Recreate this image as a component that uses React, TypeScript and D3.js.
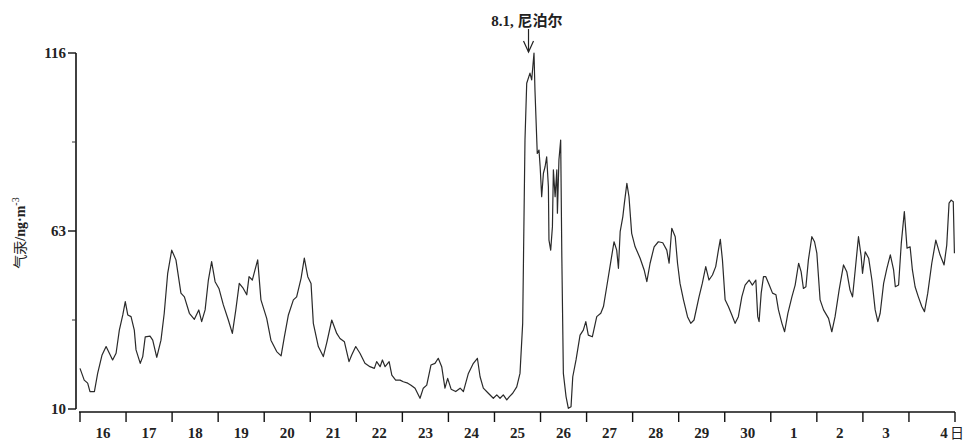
import React, { useEffect, useRef } from "react";
import * as d3 from "d3";

// hours since 00:00 of day 16
const obsHours = [
  0, 2.2, 4.0, 5.2, 7.5, 9.2, 11.5, 13.6, 15.3, 17.0, 18.8, 20.5, 22.3, 23.6, 24.9, 26.6, 28.3, 29.2,
  31.4, 32.7, 34.0, 36.5, 37.9, 40.0, 42.2, 43.9, 45.7, 47.8, 50.0, 52.6, 54.4, 57.0, 59.6, 61.9,
  63.4, 65.2, 66.9, 68.6, 70.4, 72.4, 74.7, 77.3, 79.4, 81.2, 83.0, 85.1, 86.9, 88.1, 89.8, 91.2,
  92.6, 94.3, 97.3, 99.5, 100.7, 102.5, 104.8, 106.5, 108.6, 111.2, 112.9, 115.2, 116.9, 118.7,
  120.4, 121.6, 124.2, 126.8, 128.7, 131.2, 133.8, 135.5, 137.8, 140.2, 141.6, 143.7, 145.9, 148.5,
  151.1, 153.4, 154.6, 156.4, 157.6, 159.0, 161.1, 162.5, 164.5, 166.8, 168.5, 170.8, 172.5, 174.6,
  177.2, 178.9, 180.7, 182.9, 185.0, 186.7, 188.5, 190.2, 191.6, 193.4, 195.8, 198.1, 199.8, 202.4,
  205.0, 207.1, 208.5, 210.2, 212.8, 215.4, 217.2, 218.9, 220.6, 222.4, 223.8, 225.5, 227.6, 229.3,
  230.7, 231.9, 232.8, 234.5, 235.4, 236.6, 237.1, 238.3, 239.2, 239.8, 240.6, 241.5, 242.4, 243.2,
  244.1, 244.4, 245.3, 246.2, 246.7, 247.6, 248.5, 248.8, 249.6, 250.5, 251.1, 251.9, 253.3, 254.5,
  255.9, 256.8, 258.5, 260.6, 262.3, 263.6, 264.9, 267.0, 269.3, 271.4, 272.8, 274.5, 276.2, 278.3,
  279.7, 280.6, 281.5, 282.9, 283.7, 285.0, 286.1, 287.5, 289.3, 291.9, 294.0, 295.4, 297.1, 299.2,
  301.4, 303.7, 305.8, 307.0, 308.4, 310.2, 311.4, 312.7, 314.5, 316.6, 318.3, 320.0, 322.6, 324.3,
  326.1, 327.8, 329.6, 331.3, 332.7, 333.7, 334.8, 336.2, 337.9, 339.7, 341.4, 343.1, 344.9, 346.6,
  348.7, 350.4, 352.2, 353.2, 353.9, 355.0, 356.2, 357.4, 359.2, 360.9, 362.7, 364.0, 365.8, 367.2,
  368.9, 371.0, 372.7, 374.5, 375.8, 377.0, 378.3, 379.6, 381.4, 382.8, 384.0, 385.7, 387.5, 390.1,
  391.8, 393.5, 395.6, 397.9, 399.6, 401.3, 402.6, 404.0, 405.7, 407.1, 407.8, 409.2, 411.0, 412.7,
  414.4, 415.8, 417.0, 418.8, 420.5, 422.3, 424.0, 424.9, 426.6, 428.0, 429.6, 431.0, 432.6, 433.8,
  435.2, 436.9, 438.7, 440.1, 441.8, 443.9, 446.0, 448.2, 450.3, 451.7, 452.9, 454.0, 455.1, 455.7,
];

// gaseous mercury, ng/m3
const obsValues = [
  22.1, 18.6, 17.7, 15.2, 15.2, 20.6, 26.1, 28.6, 26.6, 24.6, 26.6, 33.5, 38, 42, 38, 37.5, 33.5, 27.6,
  23.6, 25.6, 31.5, 31.7, 30.5, 25.4, 30.5, 38.5, 50.4, 57.3, 54.4, 44.5, 43.4, 38.5, 36.7, 39.5,
  36, 39.5, 48.4, 53.9, 47.9, 45.9, 41, 36.5, 32.5, 39.5, 47.4, 45.9, 44, 49.4, 48.4, 51.4,
  54.4, 42.5, 37, 30.5, 29.1, 27.1, 25.8, 31.5, 38, 42.5, 43.4, 48.9, 54.9, 49.4,
  47.4, 35.5, 28.6, 25.6, 30, 36.5, 32.5, 31, 30, 24.1, 26.1, 28.6, 26.6, 23.6,
  22.6, 22.1, 24.1, 22.6, 24.6, 22.6, 24.1, 20.1, 18.6, 18.6, 18.1, 17.7, 17.1, 16.2,
  13.2, 16.2, 17.1, 23.1, 23.6, 25.1, 22.6, 16.2, 19.1, 15.9, 15.2, 16.2, 15.2, 20.6,
  23.6, 25.1, 19.6, 16.2, 14.7, 13.2, 14.2, 13.2, 14.2, 12.7, 13.7, 14.7, 16.6, 20.6,
  35.5, 90.1, 107, 110, 108, 116, 105, 86.1, 87.1, 82.2, 73.2, 80.2, 82.2, 85.1,
  76.2, 60.3, 57.3, 64.3, 81.2, 73.2, 81.2, 68.3, 84.2, 90.1, 55.4, 20.6, 13.7, 10.2,
  10.7, 19.6, 24.6, 32, 33.5, 36, 32, 31.5, 37.5, 38.5, 40.5, 46.4, 52.4, 59.8,
  57.3, 51.9, 62.8, 67.3, 71.3, 77.2, 73.2, 62.3, 58.3, 54.9, 51.4, 47.9, 53.4, 58.3,
  59.8, 59.5, 57.3, 53.4, 63.8, 61.3, 53.4, 47.4, 42.5, 37.5, 35.5, 36.5, 43.4, 47.4,
  52.4, 48.4, 49.9, 52.4, 57.3, 60.5, 54.4, 42.5, 40.5, 38, 35.5, 37.5, 43.4, 46.9,
  48.4, 46.9, 48.4, 37.5, 36, 44.5, 49.4, 49.4, 46.9, 44.5, 44, 39.5, 35.5, 33,
  38.5, 43.4, 46.9, 53.4, 50.9, 45.9, 46.4, 54.4, 61.3, 59.8, 56.4, 42.5, 39.5, 37,
  33, 37.5, 45.4, 52.9, 50.9, 45.4, 43.4, 51.4, 61.3, 55.4, 50.4, 56.8, 54.9, 48.4,
  39.5, 36, 38.5, 47.4, 51.9, 55.9, 51.4, 46.4, 46.9, 59.3, 68.8, 57.9, 58.3, 51.4,
  46.4, 43.4, 40.5, 39, 44.5, 53.4, 60.3, 55.9, 52.9, 58.8, 71.3, 72.2, 71.7, 56.4,
];

const dayLabels = ["16", "17", "18", "19", "20", "21", "22", "23", "24", "25", "26", "27", "28", "29", "30", "1", "2", "3", "4"];
const yMajorTicks = [10, 63, 116];
const yMinorTicks = [36.5, 89.5];
const eventHour = 234; // arrow position
const eventLabel = "8.1, 尼泊尔";

const App = () => {
  const chartRef = useRef<SVGSVGElement | null>(null);

  useEffect(() => {
    const width = 963;
    const height = 443;
    const serif = "'Liberation Serif', 'Times New Roman', 'Noto Sans CJK SC', serif";

    const svg = d3.select(chartRef.current);
    svg.selectAll("*").remove();
    svg.append("rect").attr("width", width).attr("height", height).attr("fill", "#fff");

    const totalHours = dayLabels.length * 24;
    const x = d3.scaleLinear().domain([0, totalHours]).range([80, 955]);
    const y = d3.scaleLinear().domain([10, 116]).range([409, 53]);

    // Y axis
    const yAxisX = 76;
    svg.append("line")
      .attr("x1", yAxisX).attr("x2", yAxisX)
      .attr("y1", y(116)).attr("y2", y(10))
      .attr("stroke", "#111").attr("stroke-width", 1.6);

    svg.selectAll(".ymaj")
      .data(yMajorTicks)
      .enter()
      .append("line")
      .attr("x1", yAxisX - 8).attr("x2", yAxisX)
      .attr("y1", (d) => y(d)).attr("y2", (d) => y(d))
      .attr("stroke", "#111").attr("stroke-width", 1.4);

    svg.selectAll(".ymin")
      .data(yMinorTicks)
      .enter()
      .append("line")
      .attr("x1", yAxisX - 4).attr("x2", yAxisX)
      .attr("y1", (d) => y(d)).attr("y2", (d) => y(d))
      .attr("stroke", "#333").attr("stroke-width", 1);

    svg.selectAll(".ylab")
      .data(yMajorTicks)
      .enter()
      .append("text")
      .attr("x", yAxisX - 10)
      .attr("y", (d) => y(d) + 5)
      .attr("text-anchor", "end")
      .style("font-family", serif)
      .style("font-size", "15px")
      .style("font-weight", "bold")
      .attr("fill", "#222")
      .text((d) => d);

    // Y axis title
    const yTitle = svg.append("text")
      .attr("transform", "translate(25,233) rotate(-90)")
      .attr("text-anchor", "middle")
      .style("font-family", serif)
      .style("font-size", "14px")
      .attr("fill", "#222");
    yTitle.append("tspan").style("font-family", "'Noto Sans CJK SC', sans-serif").text("气汞");
    yTitle.append("tspan").style("font-weight", "bold").text("/ng·m");
    yTitle.append("tspan").attr("dy", -6).style("font-size", "10px").text("-3");

    // X axis
    const xAxisY = 412;
    svg.append("line")
      .attr("x1", x(0) - 1).attr("x2", x(totalHours))
      .attr("y1", xAxisY).attr("y2", xAxisY)
      .attr("stroke", "#111").attr("stroke-width", 1.6);

    const dayEdges = d3.range(dayLabels.length + 1).map((i) => i * 24);
    svg.selectAll(".xtick")
      .data(dayEdges)
      .enter()
      .append("line")
      .attr("x1", (d) => x(d)).attr("x2", (d) => x(d))
      .attr("y1", xAxisY).attr("y2", xAxisY + 10)
      .attr("stroke", "#111").attr("stroke-width", 1.4);

    svg.selectAll(".xlab")
      .data(dayLabels)
      .enter()
      .append("text")
      .attr("x", (d, i) => x(i * 24 + 12) + (i === dayLabels.length - 1 ? 12 : 0))
      .attr("y", 438)
      .attr("text-anchor", "middle")
      .style("font-family", serif)
      .style("font-size", "15px")
      .style("font-weight", "bold")
      .attr("fill", "#222")
      .text((d) => d);

    svg.append("text")
      .attr("x", x(totalHours) + 2)
      .attr("y", 438)
      .attr("text-anchor", "middle")
      .style("font-family", "'Noto Sans CJK SC', sans-serif")
      .style("font-size", "14px")
      .attr("fill", "#222")
      .text("日");

    // mercury trace
    const points: [number, number][] = obsHours.map((h, i) => [h, obsValues[i]]);
    const line = d3.line<[number, number]>()
      .x((d) => x(d[0]))
      .y((d) => y(d[1]));

    svg.append("path")
      .datum(points)
      .attr("d", line)
      .attr("fill", "none")
      .attr("stroke", "#2a2a2a")
      .attr("stroke-width", 1.2)
      .attr("stroke-linejoin", "round");

    // event annotation
    const ax = x(eventHour) - 0.5;
    svg.append("line")
      .attr("x1", ax).attr("x2", ax)
      .attr("y1", 29).attr("y2", 52)
      .attr("stroke", "#222").attr("stroke-width", 1.2);
    svg.append("path")
      .attr("d", `M${ax - 5},41 L${ax},52 L${ax + 5},41`)
      .attr("fill", "none")
      .attr("stroke", "#222")
      .attr("stroke-width", 1.2);

    svg.append("text")
      .attr("x", 527)
      .attr("y", 26)
      .attr("text-anchor", "middle")
      .style("font-family", serif)
      .style("font-size", "15px")
      .style("font-weight", "bold")
      .attr("fill", "#222")
      .text(eventLabel);
  }, []);

  return (
    <svg
      ref={chartRef}
      width={963}
      height={443}
      style={{ position: "absolute", left: 0, top: 0 }}
    />
  );
};

export default App;
